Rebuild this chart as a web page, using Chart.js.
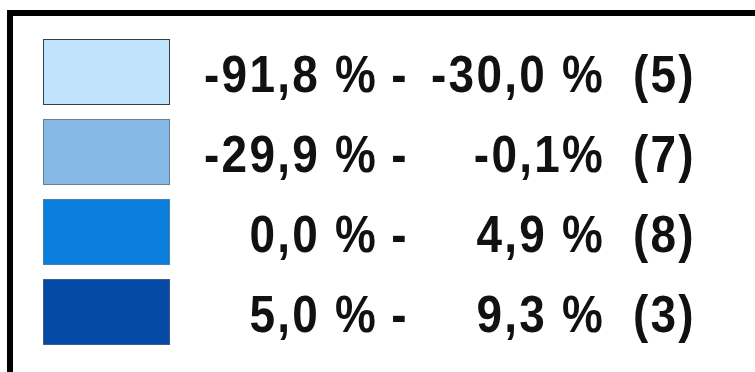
<!DOCTYPE html>
<html>
<head>
<meta charset="utf-8">
<script src="https://cdn.jsdelivr.net/npm/chart.js@4/dist/chart.umd.min.js"></script>
<style>
  html, body { margin: 0; padding: 0; background: #ffffff; }
  #wrap { position: relative; width: 755px; height: 372px; overflow: hidden; }
  canvas { display: block; }
</style>
</head>
<body>
<div id="wrap"><canvas id="legendChart" width="755" height="372"></canvas></div>
<script>
// Class breaks of the map legend (percent change) and number of areas per class
const classes = ['c1', 'c2', 'c3', 'c4'];
const lowerLabels = ['-91,8 %', '-29,9 %', '0,0 %', '5,0 %'];
const upperLabels = ['-30,0 %', '-0,1%', '4,9 %', '9,3 %'];
const counts = [5, 7, 8, 3];
const swatchColors = ['#bfe4fb', '#86b8e6', '#0a7eda', '#0449a3'];
const swatchBorders = ['#35404c', '#6b7f93', '#4d7fae', '#3f5f8a'];
// Each swatch spans the full unit of the value axis
const swatchSpan = classes.map(() => [0, 1]);

const FONT = 'bold 51px "Liberation Sans", Arial, sans-serif';
const SQUEEZE = 0.9;      // narrow glyphs...
const TRACKING = '2.5px'; // ...with open letter spacing

// Frame around the legend (top and left edges are visible)
const framePlugin = {
  id: 'frame',
  beforeDraw(chart) {
    const ctx = chart.ctx;
    ctx.save();
    ctx.fillStyle = '#ffffff';
    ctx.fillRect(0, 0, chart.width, chart.height);
    ctx.strokeStyle = '#000000';
    ctx.lineWidth = 6;
    ctx.strokeRect(10, 13, 900, 500);
    ctx.restore();
  }
};

// Class range text next to each swatch
const rangeTextPlugin = {
  id: 'rangeText',
  afterDatasetsDraw(chart) {
    const ctx = chart.ctx;
    const y = chart.scales.y;
    ctx.save();
    ctx.scale(SQUEEZE, 1);
    ctx.font = FONT;
    if ('letterSpacing' in ctx) ctx.letterSpacing = TRACKING;
    ctx.fillStyle = '#111111';
    ctx.textBaseline = 'alphabetic';
    const put = (text, x, base, align) => {
      ctx.textAlign = align;
      ctx.fillText(text, x / SQUEEZE, base);
    };
    classes.forEach((c, i) => {
      const base = y.getPixelForValue(i) + 20;
      put(lowerLabels[i], 378, base, 'right');
      put('-', 400, base, 'center');
      put(upperLabels[i], 605, base, 'right');
      put('(' + counts[i] + ')', 633, base, 'left');
    });
    ctx.restore();
  }
};

new Chart(document.getElementById('legendChart'), {
  type: 'bar',
  data: {
    labels: classes,
    datasets: [{
      data: swatchSpan,
      backgroundColor: swatchColors,
      borderColor: swatchBorders,
      borderWidth: 1,
      borderSkipped: false,
      categoryPercentage: 1,
      barPercentage: 0.825
    }]
  },
  options: {
    indexAxis: 'y',
    responsive: false,
    animation: false,
    layout: { padding: { left: 43, right: 585, top: 32, bottom: 20 } },
    plugins: { legend: { display: false }, tooltip: { enabled: false } },
    scales: {
      x: { display: false, min: 0, max: 1 },
      y: { display: false }
    }
  },
  plugins: [framePlugin, rangeTextPlugin]
});
</script>
</body>
</html>
